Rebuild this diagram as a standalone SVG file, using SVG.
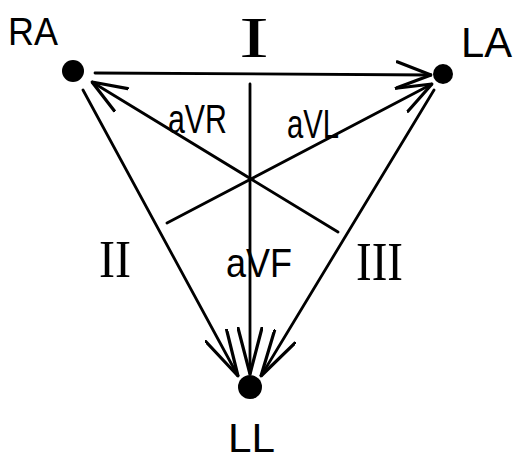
<svg xmlns="http://www.w3.org/2000/svg" width="514" height="459" viewBox="0 0 514 459">
<style>
.bg{fill:#fff}
.ln{stroke:#000;stroke-width:2.8;fill:none;stroke-linecap:round}
.dot{fill:#000}
.lbl{font-family:"Liberation Sans",Arial,sans-serif;fill:#000}
.rom{font-family:"Liberation Serif","Times New Roman",serif;fill:#000}
</style>
<defs>
<marker id="ah" viewBox="0 0 36 30" refX="35" refY="15" markerWidth="36" markerHeight="30" orient="auto" markerUnits="userSpaceOnUse">
<path d="M1,2 L35,15 L1,28" fill="none" stroke="#000" stroke-width="3.2" stroke-linecap="round" stroke-linejoin="round"/>
</marker>
<marker id="ahl" viewBox="0 0 48 26" refX="47" refY="13" markerWidth="48" markerHeight="26" orient="auto" markerUnits="userSpaceOnUse">
<path d="M1,1 L47,13 L1,25" fill="none" stroke="#000" stroke-width="3.2" stroke-linecap="round" stroke-linejoin="round"/>
</marker>
</defs>
<rect class="bg" x="0" y="0" width="514" height="459"/>
<g id="connectors">
<line id="lead-I" class="ln" x1="95" y1="73" x2="431" y2="75" marker-end="url(#ah)"/>
<line id="lead-aVR" class="ln" x1="338" y1="232" x2="92" y2="82" marker-end="url(#ah)"/>
<line id="lead-aVL" class="ln" x1="167" y1="223" x2="432" y2="84" marker-end="url(#ah)"/>
<line id="lead-aVF" class="ln" x1="250" y1="84" x2="250" y2="374" marker-end="url(#ahl)"/>
<line id="lead-II" class="ln" x1="83" y1="90" x2="238" y2="376" marker-end="url(#ahl)"/>
<line id="lead-III" class="ln" x1="434" y1="90" x2="261" y2="376" marker-end="url(#ahl)"/>
</g>
<g id="lead-labels">
<text class="rom" x="239" y="57" font-size="56" textLength="30" lengthAdjust="spacingAndGlyphs">I</text>
<text class="rom" x="99" y="277" font-size="52" textLength="32" lengthAdjust="spacingAndGlyphs">II</text>
<text class="rom" x="356" y="280" font-size="54" textLength="47" lengthAdjust="spacingAndGlyphs">III</text>
<text class="lbl" x="168" y="133" font-size="40" textLength="59" lengthAdjust="spacingAndGlyphs">aVR</text>
<text class="lbl" x="287" y="138" font-size="40" textLength="52" lengthAdjust="spacingAndGlyphs">aVL</text>
<text class="lbl" x="226" y="277" font-size="40" textLength="66" lengthAdjust="spacingAndGlyphs">aVF</text>
</g>
<g id="RA">
<circle class="dot" cx="73" cy="71" r="11"/>
<text class="lbl" x="8" y="45" font-size="38" textLength="50" lengthAdjust="spacingAndGlyphs">RA</text>
</g>
<g id="LA">
<circle class="dot" cx="443" cy="74" r="10"/>
<text class="lbl" x="461" y="57" font-size="42" textLength="51" lengthAdjust="spacingAndGlyphs">LA</text>
</g>
<g id="LL">
<circle class="dot" cx="250" cy="387" r="12"/>
<text class="lbl" x="228" y="452" font-size="40" textLength="47" lengthAdjust="spacingAndGlyphs">LL</text>
</g>
</svg>
